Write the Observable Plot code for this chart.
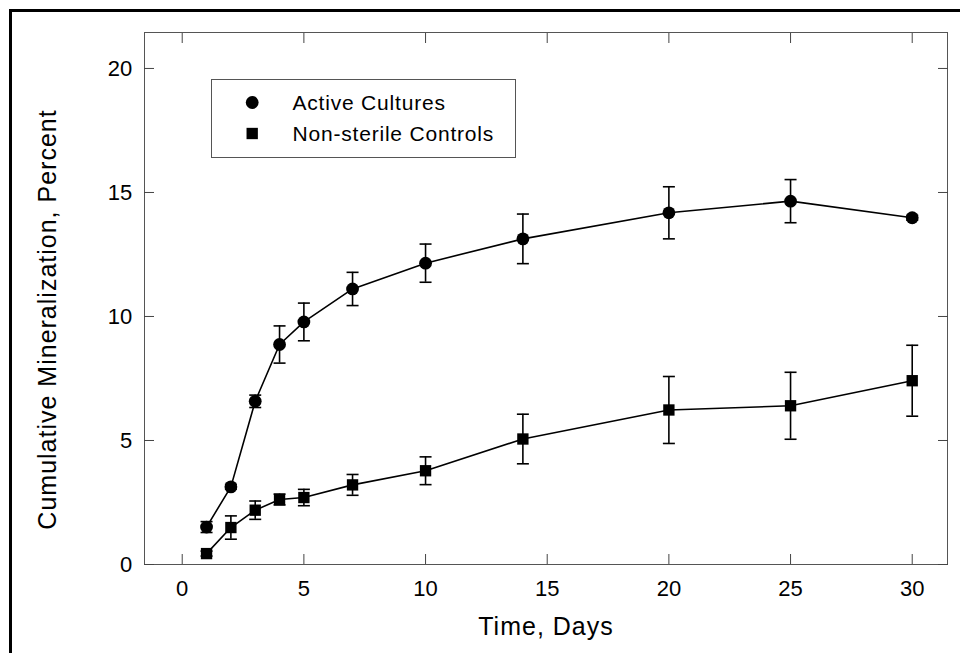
<!DOCTYPE html>
<html>
<head>
<meta charset="utf-8">
<script src="https://cdn.jsdelivr.net/npm/d3@7"></script>
<script src="https://cdn.jsdelivr.net/npm/@observablehq/plot@0.6"></script>
<style>
  html, body { margin: 0; padding: 0; background: white; }
  #wrap { position: relative; width: 960px; height: 653px; overflow: hidden; background: white; }
  #border { position: absolute; left: 9px; top: 9px; width: 1000px; height: 1000px;
            border-top: 3px solid black; border-left: 3px solid black; box-sizing: border-box; pointer-events: none; }
  #chart { position: absolute; left: 0; top: 0; }
  .ttl text { letter-spacing: 1px; }
  .leg text { letter-spacing: 0.8px; }
</style>
</head>
<body>
<div id="wrap">
  <div id="chart"></div>
  <div id="border"></div>
</div>
<script>
// ---- data ----
const days = [1, 2, 3, 4, 5, 7, 10, 14, 20, 25, 30];
const activeMean = [1.51, 3.13, 6.58, 8.87, 9.78, 11.11, 12.15, 13.13, 14.18, 14.65, 13.98];
const activeErr  = [0.22, 0.10, 0.25, 0.75, 0.76, 0.67, 0.77, 1.00, 1.05, 0.87, 0.10];
const controlMean = [0.44, 1.49, 2.19, 2.62, 2.70, 3.21, 3.78, 5.06, 6.23, 6.40, 7.41];
const controlErr  = [0.10, 0.47, 0.37, 0.22, 0.33, 0.42, 0.56, 1.00, 1.35, 1.35, 1.43];
const seriesNames = ["Active Cultures", "Non-sterile Controls"];
const seriesSymbols = ["circle", "square"];
const xTicks = [0, 5, 10, 15, 20, 25, 30];
const yTicks = [0, 5, 10, 15, 20];
const xLabel = "Time, Days";
const yLabel = "Cumulative Mineralization, Percent";

// ---- build tables ----
const means = [activeMean, controlMean];
const errs = [activeErr, controlErr];
const series = seriesNames.map((name, s) =>
  days.map((d, i) => ({day: d, value: means[s][i], err: errs[s][i], name}))
);
const all = series.flat();
const caps = all.flatMap(d => [{day: d.day, v: d.value - d.err}, {day: d.day, v: d.value + d.err}]);

const capSymbol = { draw(ctx) { ctx.moveTo(-6, 0); ctx.lineTo(6, 0); } };
const tickColor = "#444";

const marks = [
  Plot.frame({stroke: "#555", strokeWidth: 1}),
  Plot.axisX({anchor: "bottom", ticks: xTicks, tickSize: -10, tickPadding: 25.4, label: null, stroke: tickColor, fill: "black", fontSize: 22}),
  Plot.axisX({anchor: "top", ticks: xTicks, tickSize: -10, tickFormat: () => "", label: null, stroke: tickColor}),
  Plot.axisY({anchor: "left", ticks: yTicks, tickSize: -10, tickPadding: 22.3, label: null, stroke: tickColor, fill: "black", fontSize: 22}),
  Plot.axisY({anchor: "right", ticks: yTicks, tickSize: -10, tickFormat: () => "", label: null, stroke: tickColor}),
  // error bars
  Plot.ruleX(all, {x: "day", y1: d => d.value - d.err, y2: d => d.value + d.err, stroke: "black", strokeWidth: 1.6}),
  Plot.dot(caps, {x: "day", y: "v", symbol: capSymbol, stroke: "black", fill: "none", strokeWidth: 1.6}),
  // lines and markers
  ...series.map(s => Plot.line(s, {x: "day", y: "value", stroke: "black", strokeWidth: 1.6})),
  ...series.map((s, k) => Plot.dot(s, {x: "day", y: "value", symbol: seriesSymbols[k], r: 6.4, fill: "black", stroke: "none"})),
  // axis titles
  Plot.text([xLabel], {frameAnchor: "bottom", dy: 62, fontSize: 25, textAnchor: "middle", lineAnchor: "middle", fill: "black", className: "ttl"}),
  Plot.text([yLabel], {frameAnchor: "left", rotate: -90, dx: -97, dy: 21, fontSize: 25, textAnchor: "middle", lineAnchor: "middle", fill: "black", className: "ttl"}),
  // legend box
  Plot.frame({stroke: "#555", strokeWidth: 1, insetLeft: 67, insetTop: 47, insetRight: 432, insetBottom: 407}),
  ...seriesNames.flatMap((name, k) => [
    Plot.dot([name], {frameAnchor: "top-left", dx: 107.7, dy: 70 + 31 * k, symbol: seriesSymbols[k], r: 6.4, fill: "black", stroke: "none"}),
    Plot.text([name], {frameAnchor: "top-left", dx: 148, dy: 70.3 + 31 * k, text: d => d, fontSize: 21, textAnchor: "start", lineAnchor: "middle", fill: "black", className: "leg"})
  ])
];

const chart = Plot.plot({
  width: 960,
  height: 653,
  marginLeft: 144,
  marginRight: 13,
  marginTop: 32,
  marginBottom: 89,
  style: {fontFamily: "'Liberation Sans', Arial, sans-serif", fontSize: "20px", color: "black", background: "transparent"},
  x: {type: "linear", domain: [-1.55, 31.45], label: null},
  y: {type: "linear", domain: [0, 21.45], label: null},
  marks
});
document.getElementById("chart").appendChild(chart);
</script>
</body>
</html>
